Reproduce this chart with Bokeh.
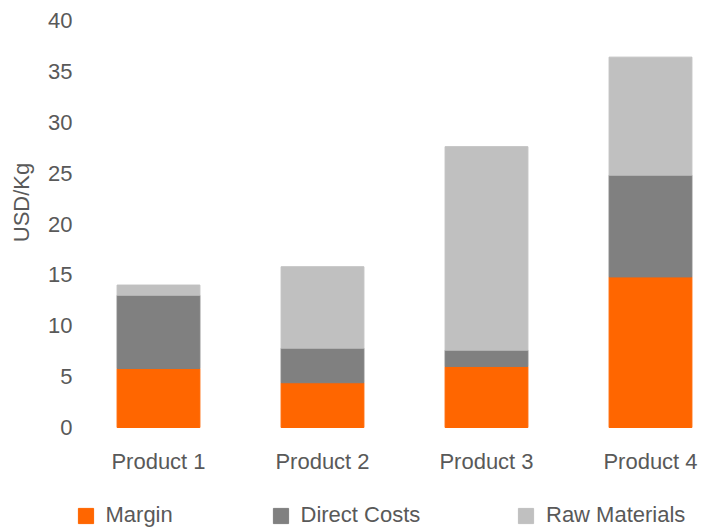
import math

from bokeh.embed import file_html
from bokeh.models import (ColumnDataSource, FixedTicker, Label, Legend,
                          LegendItem, Range1d)
from bokeh.plotting import figure
from bokeh.resources import INLINE

# Cost build-up per product, USD/Kg
products = ["Product 1", "Product 2", "Product 3", "Product 4"]
margin = [5.8, 4.4, 6.0, 14.8]
direct_costs = [7.2, 3.4, 1.6, 10.0]
raw_materials = [1.0, 8.0, 20.0, 11.6]
y_ticks = [0, 5, 10, 15, 20, 25, 30, 35, 40]

series = ["margin", "direct_costs", "raw_materials"]
series_labels = ["Margin", "Direct Costs", "Raw Materials"]
colors = ["#FF6600", "#808080", "#C0C0C0"]

FONT = "Liberation Sans"
TEXT_COLOR = "#595959"
FONT_SIZE = "22px"

W, H = 702, 530
# pixel layout of the value area inside the canvas
AREA_LEFT, AREA_TOP, AREA_BOTTOM = 76, 20, 427
PX_PER_CAT = 164.0
PX_PER_UNIT = (AREA_BOTTOM - AREA_TOP) / 40.0

positions = list(range(1, len(products) + 1))
source = ColumnDataSource(data=dict(
    x=positions,
    margin=margin,
    direct_costs=direct_costs,
    raw_materials=raw_materials,
))

# the frame fills the whole canvas; axes sit at fixed data locations
x_range = Range1d(0.5 - AREA_LEFT / PX_PER_CAT, 0.5 + (W - AREA_LEFT) / PX_PER_CAT)
y_range = Range1d(-(H - AREA_BOTTOM) / PX_PER_UNIT, 40 + AREA_TOP / PX_PER_UNIT)

p = figure(
    width=W, height=H, x_range=x_range, y_range=y_range,
    output_backend="svg", toolbar_location=None, min_border=0,
)
p.title.visible = False
p.outline_line_color = None
p.xgrid.visible = False
p.ygrid.visible = False

# outline in the fill colour so stacked segments join without seams
renderers = p.vbar_stack(series, x="x", width=0.505, color=colors,
                         line_width=1, source=source)

# axes: labels only, no lines or ticks
for ax in (p.xaxis[0], p.yaxis[0]):
    ax.axis_line_color = None
    ax.major_tick_line_color = None
    ax.minor_tick_line_color = None
    ax.major_tick_out = 0
    ax.major_tick_in = 0
    ax.major_label_text_font = FONT
    ax.major_label_text_font_size = FONT_SIZE
    ax.major_label_text_color = TEXT_COLOR

p.xaxis.fixed_location = 0
p.xaxis.ticker = FixedTicker(ticks=positions)
p.xaxis.major_label_overrides = {pos: name for pos, name in zip(positions, products)}
p.xaxis.major_label_standoff = 21

p.yaxis.fixed_location = 0.5
p.yaxis.ticker = FixedTicker(ticks=y_ticks)
p.yaxis.major_label_standoff = 4

# rotated y-axis title
p.add_layout(Label(
    x=21, y=H - 202, x_units="screen", y_units="screen",
    text="USD/Kg", angle=math.pi / 2,
    text_align="center", text_baseline="middle",
    text_font=FONT, text_font_size=FONT_SIZE, text_color=TEXT_COLOR,
))

# legend entries in a row under the category labels
legend_x = [75.5, 270.5, 516]
for r, name, lx in zip(renderers, series_labels, legend_x):
    p.add_layout(Legend(
        items=[LegendItem(label=name, renderers=[r])],
        location=(lx, 2),
        orientation="horizontal",
        glyph_width=19, glyph_height=19,
        label_standoff=11, padding=0, margin=0, spacing=0,
        border_line_color=None, background_fill_alpha=0,
        label_text_font=FONT, label_text_font_size=FONT_SIZE,
        label_text_color=TEXT_COLOR, label_text_baseline="middle",
    ), "center")

open("out.html", "w").write(file_html(p, INLINE))
